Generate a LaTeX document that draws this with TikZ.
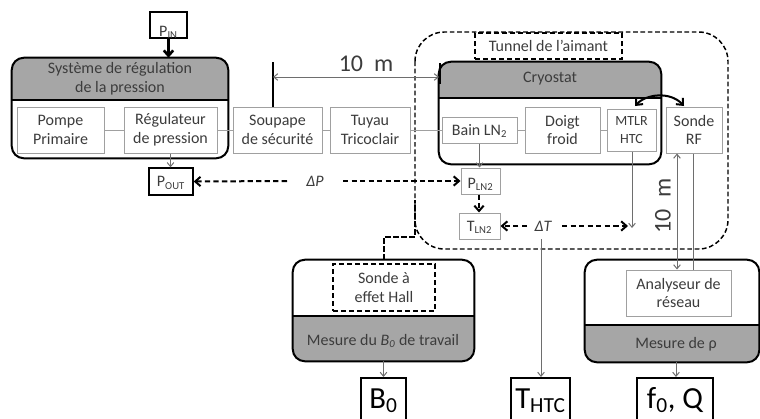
\documentclass[tikz,border=0pt]{standalone}
\usepackage{fontspec}
\setmainfont{Carlito}
\usetikzlibrary{arrows.meta,fit,calc}

\definecolor{txtgray}{RGB}{60,60,60}
\definecolor{boxgray}{RGB}{160,160,160}
\definecolor{arrgray}{RGB}{110,110,110}
\definecolor{hdrgray}{RGB}{166,166,166}

% subscript that does not change the height of its line
\newcommand\flatsub[1]{\smash{\textsubscript{#1}}}

\begin{document}
\begin{tikzpicture}[x=0.75pt,y=-0.75pt,
  every node/.style={text=txtgray, font=\fontsize{12}{14}\selectfont},
  boxtxt/.style={align=center, inner sep=0pt},
  inbox/.style={draw=boxgray, line width=0.75pt, fill=white, inner sep=0pt},
  outbox/.style={draw=black, line width=1.5pt, fill=white, inner sep=0pt},
  dashbox/.style={draw=black, line width=1.5pt, dash pattern=on 4pt off 2pt, inner sep=0pt},
  bigbox/.style={draw=black, line width=1.5pt, inner sep=0pt},
  bigtxt/.style={anchor=base, inner sep=0pt, text=black, font=\fontsize{23}{25}\selectfont},
  dimtxt/.style={font=\fontsize{18}{20}\selectfont},
  link/.style={draw=boxgray, line width=0.75pt},
  thinarrow/.style={draw=arrgray, line width=0.75pt, -{Straight Barb[length=3pt,width=5pt]}},
  dasharrow/.style={draw=black, line width=1.5pt, dash pattern=on 4pt off 2.4pt, -{Straight Barb[length=4pt,width=7pt]}},
  frame/.style={draw=black, line width=1.5pt, rounded corners=9pt},
]
\useasboundingbox (0,0) rectangle (760,418);

% --- pressure regulation unit ---
\node[fit={(12,58)(228,158)}, inner sep=0pt] (press) {};
\begin{scope}
  \clip[rounded corners=9pt] (press.north west) rectangle (press.south east);
  \fill[hdrgray] (12,58) rectangle (228,100);
\end{scope}
\draw[frame] (press.north west) rectangle (press.south east);
\draw[line width=1.5pt] (12,100) -- (228,100);
\node[boxtxt] (presslbl) at (120,79) {Système de régulation\\de la pression};
\node[inbox, fit={(17,107)(104,153)}] (pompe) {};
\node[boxtxt] (pompetxt) at (pompe.center) {Pompe\\Primaire};
\node[inbox, fit={(124,107)(217,153)}] (regul) {};
\node[boxtxt] (regultxt) at (regul.center) {Régulateur\\de pression};

\node[outbox, fit={(150,12)(187,38)}] (pin) {};
\node[anchor=base, inner sep=0pt] (pintxt) at (168.5,36.5) {P\textsubscript{IN}};
\draw[line width=2pt, -{Straight Barb[length=4pt,width=7pt]}] (pin.south) -- (press.north -| pin.south);

% --- line to the cryostat ---
\node[inbox, fit={(233,107)(322,153)}] (soupape) {};
\node[boxtxt] (soupapetxt) at (soupape.center) {Soupape\\de sécurité};
\node[inbox, fit={(330,107)(410,153)}] (tuyau) {};
\node[boxtxt] (tuyautxt) at (tuyau.center) {Tuyau\\Tricoclair};

% --- magnet tunnel ---
\draw[line width=1.1pt, dash pattern=on 3.5pt off 2pt, rounded corners=22pt] (415,32) rectangle (728,249);
\node[dashbox, fit={(475,33)(622,59)}] (tunnel) {};
\node[boxtxt] (tunneltxt) at (tunnel.center) {Tunnel de l’aimant};

% --- cryostat ---
\node[fit={(439,62)(661,164)}, inner sep=0pt] (cryo) {};
\begin{scope}
  \clip[rounded corners=9pt] (cryo.north west) rectangle (cryo.south east);
  \fill[hdrgray] (439,62) rectangle (661,98);
\end{scope}
\draw[frame] (cryo.north west) rectangle (cryo.south east);
\draw[line width=1.5pt] (439,98) -- (661,98);
\node[boxtxt] (cryolbl) at (550,79) {Cryostat};
\node[inbox, fit={(442,117)(517,143)}] (bain) {};
\node[boxtxt] (baintxt) at (bain.center) {Bain LN\flatsub{2}};
\node[inbox, fit={(525,107)(600,153)}] (doigt) {};
\node[boxtxt] (doigttxt) at (doigt.center) {Doigt\\froid};
\node[inbox, fit={(607,109)(656,151)}] (mtlr) {};
\node[boxtxt, font=\fontsize{10.5}{13}\selectfont] (mtlrtxt) at (mtlr.center) {MTLR\\HTC};
\node[inbox, fit={(666,107)(722,153)}] (sonderf) {};
\node[boxtxt] (sonderftxt) at (sonderf.center) {Sonde\\RF};

\draw[link] (pompe.east) -- (regul.west);
\draw[link] (regul.east) -- (soupape.west);
\draw[link] (soupape.east) -- (tuyau.west);
\draw[link] (tuyau.east) -- (bain.west);
\draw[link] (bain.east) -- (doigt.west);
\draw[link] (doigt.east) -- (mtlr.west);

% --- 10 m span along the line ---
\coordinate (tickA) at (273,62);
\coordinate (tickB) at (440,63);
\draw[line width=1.5pt] (tickA) -- (soupape.north -| tickA);
\draw[line width=1.5pt] (tickB) -- (440,84);
\draw[draw=arrgray, line width=0.75pt, {Straight Barb[length=3pt,width=5pt]}-{Straight Barb[length=3pt,width=5pt]}] (273,77) -- (439,77);
\node[dimtxt] (dist) at (366,64) {10\ \ m};

% --- pressure readings ---
\node[draw=black, line width=1pt, inner sep=0pt, fit={(149,168)(193,195)}] (pout) {};
\node[boxtxt] (pouttxt) at (pout.center) {P\flatsub{OUT}};
\node[inbox, fit={(461,168)(500,194)}] (pln) {};
\node[boxtxt] (plntxt) at ([yshift=-1.5pt]pln.center) {P\flatsub{LN2}};
\node[inbox, fit={(459,213)(500,239)}] (tln) {};
\node[boxtxt] (tlntxt) at (tln.center) {T\flatsub{LN2}};
\draw[thinarrow] (regul.south) -- (pout.north -| regul.south);
\draw[thinarrow] (bain.south) -- (pln.north -| bain.south);
\draw[dasharrow] (pln.south -| 479,0) -- (tln.north -| 479,0);

\node[font=\itshape\fontsize{12}{14}\selectfont] (dp) at (315,181) {ΔP};
\coordinate (dpL) at (287,181);
\coordinate (dpR) at (343,181);
\draw[dasharrow] (dpL) -- (pout.east);
\draw[dasharrow] (dpR) -- (pln.west);

\node[font=\itshape\fontsize{12}{14}\selectfont] (dt) at (543,226) {ΔT};
\coordinate (dtL) at (527,226);
\coordinate (dtR) at (562,226);
\coordinate (dtEnd) at (628,226);
\coordinate (mtlrEnd) at (632,228);
\draw[dasharrow] (dtL) -- (tln.east);
\draw[dasharrow] (dtR) -- (dtEnd);
\draw[thinarrow] (mtlr.south -| mtlrEnd) -- (mtlrEnd);

% --- RF probe link ---
\draw[line width=1.5pt, {Straight Barb[length=4pt,width=7pt]}-{Straight Barb[length=4pt,width=7pt]}]
  (635,106) .. controls (646,94) and (670,91) .. (684,106);

% --- Hall probe measurement ---
\node[fit={(293,260)(474,361)}, inner sep=0pt] (mesb) {};
\begin{scope}
  \clip[rounded corners=9pt] (mesb.north west) rectangle (mesb.south east);
  \fill[hdrgray] (293,316) rectangle (474,361);
\end{scope}
\draw[frame] (mesb.north west) rectangle (mesb.south east);
\draw[line width=1.5pt] (293,316) -- (474,316);
\node[boxtxt] (mesblbl) at (383,340) {Mesure du \textit{B\flatsub{0}} de travail};
\node[dashbox, fit={(333,264)(435,311)}] (hall) {};
\node[boxtxt] (halltxt) at (hall.center) {Sonde à\\effet Hall};
\coordinate (hallK) at (384,237);
\coordinate (hallJ) at (415,237);
\draw[line width=1.5pt, dash pattern=on 4pt off 2pt] (mesb.north -| hallK) -- (hallK) -- (hallJ) -- (415,200);

% --- network analyser ---
\node[fit={(585,260)(759,362)}, inner sep=0pt] (mesr) {};
\begin{scope}
  \clip[rounded corners=9pt] (mesr.north west) rectangle (mesr.south east);
  \fill[hdrgray] (585,325) rectangle (759,362);
\end{scope}
\draw[frame] (mesr.north west) rectangle (mesr.south east);
\draw[line width=1.5pt] (585,325) -- (759,325);
\node[boxtxt] (mesrlbl) at (676,344) {Mesure de ρ};
\node[inbox, fit={(626,270)(731,316)}] (analy) {};
\node[boxtxt] (analytxt) at (analy.center) {Analyseur de\\réseau};

\draw[draw=arrgray, line width=0.75pt, {Straight Barb[length=3pt,width=5pt]}-{Straight Barb[length=3pt,width=5pt]}]
  (sonderf.south -| 677,0) -- (analy.north -| 677,0);
\draw[draw=arrgray, line width=0.75pt] (sonderf.south -| 693,0) -- (analy.north -| 693,0);
\node[dimtxt, rotate=90] (distv) at (663,206) {10\ \ m};

% --- outputs ---
\node[bigbox, fit={(361,378)(406,421)}] (b0) {};
\node[bigbox, fit={(511,378)(570,421)}] (thtc) {};
\node[bigbox, fit={(637,378)(713,421)}] (fq) {};
\node[bigtxt] (b0txt) at (383.5,408) {B\textsubscript{0}};
\node[bigtxt] (thtctxt) at (540.5,408) {T\textsubscript{HTC}};
\node[bigtxt] (fqtxt) at (675,408) {f\textsubscript{0}, Q};
\coordinate (thtcTop) at (541,239);
\draw[thinarrow] (mesb.south -| b0.north) -- (b0.north);
\draw[thinarrow] (thtcTop) -- (thtc.north -| thtcTop);
\draw[thinarrow] (mesr.south -| 676,0) -- (fq.north -| 676,0);
\end{tikzpicture}
\end{document}
